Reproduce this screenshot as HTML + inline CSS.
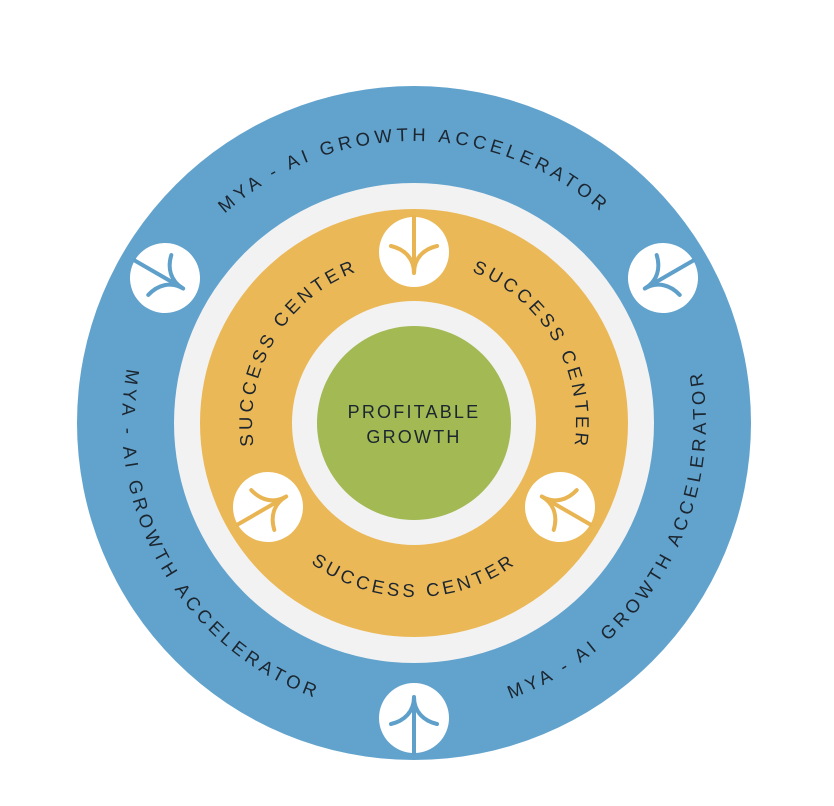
<!DOCTYPE html>
<html><head><meta charset="utf-8"><style>
html,body{margin:0;padding:0;background:#fff;}
svg{display:block;}
text{font-family:"Liberation Sans",sans-serif;fill:#1c2630;}
</style></head><body>
<svg width="834" height="806" viewBox="0 0 834 806" xmlns="http://www.w3.org/2000/svg">
<defs>
<path id="o1" d="M132,423 A282,282 0 0 1 696,423"/>
<path id="o2" d="M267,168.4 A294,294 0 0 0 561,677.6"/>
<path id="o3" d="M267,677.6 A294,294 0 0 0 561,168.4"/>
<path id="s1" d="M330.6,561.9 A162,162 0 0 1 497.4,284.1"/>
<path id="s2" d="M333,282.7 A162,162 0 0 1 495,563.3"/>
<path id="s3" d="M240,423 A174,174 0 0 0 588,423"/>
<g id="icb">
<circle r="35" fill="#fff"/>
<path d="M0,35 L0,-21 M0,-21 C0,-6 -10,3 -23,6 M0,-21 C0,-6 10,3 23,6" fill="none" stroke="#5fa0cb" stroke-width="4" stroke-linecap="round"/>
</g>
<g id="ico">
<circle r="35" fill="#fff"/>
<path d="M0,35 L0,-21 M0,-21 C0,-6 -10,3 -23,6 M0,-21 C0,-6 10,3 23,6" fill="none" stroke="#e9b553" stroke-width="4" stroke-linecap="round"/>
</g>
</defs>
<circle cx="414" cy="423" r="337" fill="#62a3cd"/>
<circle cx="414" cy="423" r="240" fill="#f2f2f2"/>
<circle cx="414" cy="423" r="214" fill="#ebb857"/>
<circle cx="414" cy="423" r="122" fill="#f2f2f2"/>
<circle cx="414" cy="423" r="97" fill="#a2b954"/>

<g font-size="18.5" letter-spacing="4.2">
<text><textPath href="#o1" startOffset="50%" text-anchor="middle">MYA - AI GROWTH ACCELERATOR</textPath></text>
<text><textPath href="#o2" startOffset="50%" text-anchor="middle">MYA - AI GROWTH ACCELERATOR</textPath></text>
<text><textPath href="#o3" startOffset="50%" text-anchor="middle">MYA - AI GROWTH ACCELERATOR</textPath></text>
</g>
<g font-size="18.5" letter-spacing="3.6">
<text><textPath href="#s1" startOffset="50%" text-anchor="middle">SUCCESS CENTER</textPath></text>
<text><textPath href="#s2" startOffset="50%" text-anchor="middle">SUCCESS CENTER</textPath></text>
<text><textPath href="#s3" startOffset="50%" text-anchor="middle">SUCCESS CENTER</textPath></text>
</g>

<text x="414" y="418" font-size="18" letter-spacing="2.2" text-anchor="middle">PROFITABLE</text>
<text x="414" y="443" font-size="18" letter-spacing="2.2" text-anchor="middle">GROWTH</text>

<use href="#icb" transform="translate(414,718)"/>
<use href="#icb" transform="translate(165,278) rotate(120)"/>
<use href="#icb" transform="translate(663,278) rotate(-120)"/>
<use href="#ico" transform="translate(414,252) rotate(180)"/>
<use href="#ico" transform="translate(268,507) rotate(60)"/>
<use href="#ico" transform="translate(560,507) rotate(-60)"/>
</svg>
</body></html>
